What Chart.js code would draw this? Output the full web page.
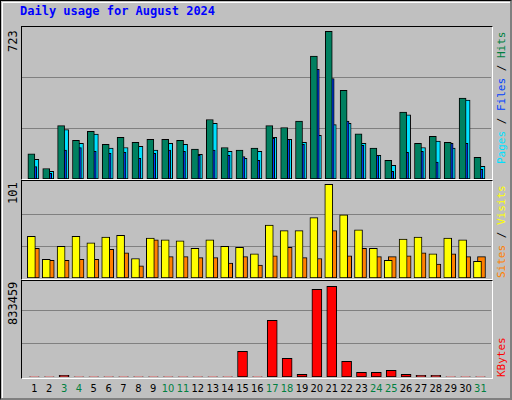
<!DOCTYPE html>
<html><head><meta charset="utf-8">
<script src="https://cdn.jsdelivr.net/npm/chart.js@4/dist/chart.umd.min.js"></script>
<style>
body{margin:0;background:#fff}
#wrap{position:absolute;left:0;top:0;background:#c0c0c0;border-top:1px solid #000;border-left:1px solid #000;border-right:2px solid #808080;border-bottom:2px solid #808080;box-sizing:border-box;width:512px;height:400px}
#inner{position:absolute;left:1px;top:1px;right:0;bottom:0;border-top:1px solid #fff;border-left:1px solid #fff}
.panel{position:absolute;left:20px;width:472px;border-top:1px solid #000;border-left:1px solid #000;border-right:1px solid #fff;border-bottom:1px solid #fff;box-sizing:border-box;background:#c0c0c0}
.panel canvas{position:absolute;left:0;top:0}
.t{position:absolute;font-family:"DejaVu Sans Mono",monospace;font-size:12px;white-space:nowrap}
.r{font-size:11px}
.rot{transform-origin:0 0;transform:rotate(-90deg)}
.xl{position:absolute;top:381px;font-family:"DejaVu Sans Condensed","DejaVu Sans",sans-serif;font-size:11px;width:20px;text-align:center}
</style></head><body>
<div id="wrap"><div id="inner"></div>
<div class="t" style="left:19px;top:3px;color:#0000ff;font-weight:bold">Daily usage for August 2024</div>
<div class="panel" style="top:25px;height:154px"><canvas id="c1"></canvas></div>
<div class="panel" style="top:179px;height:100px"><canvas id="c2"></canvas></div>
<div class="panel" style="top:279px;height:99px"><canvas id="c3"></canvas></div>
<div class="t rot" style="left:5px;top:51px">723</div>
<div class="t rot" style="left:5px;top:203px">101</div>
<div class="t rot" style="left:5px;top:324px">833459</div>
<div class="t r rot" style="left:494px;top:163px"><span style="color:#00e0ff">Pages</span> / <span style="color:#0040ff">Files</span> / <span style="color:#008040">Hits</span></div>
<div class="t r rot" style="left:494px;top:277px"><span style="color:#ff8000">Sites</span> / <span style="color:#ffff00">Visits</span></div>
<div class="t r rot" style="left:494px;top:376px"><span style="color:#ff0000">KBytes</span></div>
<div id="xl"></div>
</div>
<script>
const days=[1,2,3,4,5,6,7,8,9,10,11,12,13,14,15,16,17,18,19,20,21,22,23,24,25,26,27,28,29,30,31];
const weekend=[3,4,10,11,17,18,24,25,31];
const hits=[120,50,254,184,227,165,198,175,189,189,184,142,283,150,137,147,254,245,275,585,702,422,215,147,89,318,170,203,175,385,103];
const files=[59,27,137,150,132,122,127,98,122,137,132,113,137,113,107,89,194,189,165,522,478,275,160,113,37,127,132,80,170,170,46];
const pages=[94,37,235,170,214,147,150,155,137,170,165,117,265,132,98,132,198,189,175,208,259,265,170,113,65,305,150,180,147,375,60];
const visits=[45,20,34,45,38,44,46,21,43,41,40,32,41,34,33,26,57,51,51,65,101,68,52,32,19,42,44,26,43,41,18];
const sites=[32,19,19,20,20,31,27,13,41,23,23,22,22,16,23,14,24,33,22,21,51,24,32,23,23,24,27,15,26,23,23];
const kbytes=[2000,2000,15000,2000,2000,2000,2000,2000,2000,2000,2000,2000,2000,2000,236000,2000,521000,172000,24500,806000,833459,144000,43000,43000,61000,24500,15000,15000,2000,2000,2000];

const xl=document.getElementById('xl');
days.forEach(d=>{const e=document.createElement('div');e.className='xl';e.textContent=d;
 e.style.left=(33.3+(d-1)*14.87-10)+'px';e.style.color=weekend.includes(d)?'#008040':'#000';xl.appendChild(e);});

function mk(id,w,h,sets,max,grids){
 const c=document.getElementById(id);c.style.width=w+'px';c.style.height=h+'px';c.width=w;c.height=h;
 const ds=sets.map(s=>({data:s.v.map((v,i)=>({x:days[i]+s.o,y:v})),backgroundColor:s.c,borderColor:'#000',borderWidth:1,barThickness:s.w,borderSkipped:false,grouped:false}));
 new Chart(c,{type:'bar',data:{datasets:ds},options:{responsive:false,animation:false,devicePixelRatio:1,
  layout:{padding:0},plugins:{legend:{display:false},tooltip:{enabled:false}},
  scales:{x:{type:'linear',offset:false,min:0.17,max:31.71,display:false},
   y:{min:0,max:max,display:true,border:{display:false},ticks:{display:false},
    grid:{color:'#808080',lineWidth:1,drawTicks:false},
    afterBuildTicks:a=>{a.ticks=grids.map(v=>({value:v}));}}}}});
}
mk('c1',469,152,[{v:hits,o:-0.2,c:'#008060',w:7},{v:files,o:-0.07,c:'#0040ff',w:7},{v:pages,o:0.07,c:'#00e0ff',w:7}],723,[241,482]);
mk('c2',469,97,[{v:visits,o:-0.2,c:'#ffff00',w:8},{v:sites,o:0.07,c:'#ff8000',w:8}],104.5,[34.4,68.8]);
mk('c3',469,96,[{v:kbytes,o:0,c:'#ff0000',w:10}],882000,[303200,606400]);
</script></body></html>
